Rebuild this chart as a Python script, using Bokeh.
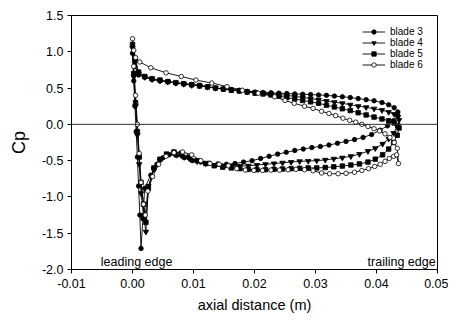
from bokeh.plotting import figure
from bokeh.models import (Span, Label, Legend, LegendItem, FixedTicker,
                          PrintfTickFormatter, Range1d)
from bokeh.embed import file_html
from bokeh.resources import INLINE

# ---------------- data ----------------
x_ticks = [-0.01, 0.0, 0.01, 0.02, 0.03, 0.04, 0.05]
y_ticks = [-2.0, -1.5, -1.0, -0.5, 0.0, 0.5, 1.0, 1.5]

# pressure side (leading edge -> trailing edge), blades 3-5
ps_x = [0.0000, 0.0004, 0.0010, 0.0020, 0.0032, 0.0045, 0.0058, 0.0071, 0.0084,
        0.0097, 0.0110, 0.0123, 0.0136, 0.0149, 0.0162, 0.0175, 0.0188, 0.0201,
        0.0214, 0.0227, 0.0240, 0.0253, 0.0266, 0.0279, 0.0292, 0.0305, 0.0318,
        0.0331, 0.0344, 0.0357, 0.0370, 0.0383, 0.0396, 0.0409, 0.0420, 0.0429,
        0.0435]
blade3_ps_cp = [0.98, 0.80, 0.68, 0.65, 0.62, 0.60, 0.59, 0.57, 0.56, 0.55, 0.54,
                0.52, 0.50, 0.49, 0.48, 0.47, 0.455, 0.445, 0.44, 0.435, 0.43,
                0.425, 0.42, 0.415, 0.41, 0.405, 0.40, 0.39, 0.38, 0.37, 0.355,
                0.34, 0.325, 0.30, 0.27, 0.23, 0.17]
blade4_ps_cp = [1.05, 0.85, 0.70, 0.65, 0.62, 0.60, 0.585, 0.57, 0.555, 0.54, 0.53,
                0.515, 0.50, 0.49, 0.475, 0.465, 0.45, 0.44, 0.43, 0.42, 0.41,
                0.40, 0.385, 0.37, 0.355, 0.34, 0.32, 0.305, 0.29, 0.27, 0.25,
                0.235, 0.215, 0.195, 0.17, 0.14, 0.10]
blade5_ps_cp = [1.10, 0.90, 0.72, 0.66, 0.63, 0.61, 0.59, 0.575, 0.56, 0.545, 0.53,
                0.515, 0.50, 0.485, 0.47, 0.46, 0.445, 0.43, 0.42, 0.405, 0.39,
                0.37, 0.35, 0.33, 0.31, 0.29, 0.265, 0.24, 0.215, 0.19, 0.16,
                0.13, 0.10, 0.075, 0.05, 0.02, -0.02]
# pressure side, blade 6
blade6_ps_x = [0.0000, 0.0002, 0.0005, 0.0012, 0.0030, 0.0055, 0.0080, 0.0104,
               0.0130, 0.0155, 0.0180, 0.0206, 0.0233, 0.0250, 0.0265, 0.0282,
               0.0296, 0.0310, 0.0322, 0.0333, 0.0345, 0.0356, 0.0366, 0.0376,
               0.0386, 0.0396, 0.0405, 0.0414, 0.0422, 0.0429, 0.0434]
blade6_ps_cp = [1.18, 1.02, 0.92, 0.86, 0.78, 0.71, 0.66, 0.61, 0.57, 0.52, 0.47,
                0.43, 0.38, 0.33, 0.29, 0.25, 0.22, 0.18, 0.15, 0.12, 0.085,
                0.055, 0.03, 0.00, -0.03, -0.06, -0.09, -0.13, -0.18, -0.25, -0.33]

# suction side (leading edge -> trailing edge)
blade3_ss_x = [0.0002, 0.0004, 0.0006, 0.0008, 0.0010, 0.0012, 0.0014, 0.0017,
               0.0020, 0.0030, 0.0040, 0.0050, 0.0060, 0.0072, 0.0085, 0.0098,
               0.0112, 0.0126, 0.0140, 0.0154, 0.0168, 0.0182, 0.0196, 0.0210,
               0.0224, 0.0238, 0.0252, 0.0266, 0.0280, 0.0294, 0.0308, 0.0322,
               0.0336, 0.0350, 0.0364, 0.0378, 0.0392, 0.0406, 0.0418, 0.0428,
               0.0435]
blade3_ss_cp = [0.60, 0.25, -0.10, -0.45, -0.85, -1.25, -1.71, -1.30, -0.88, -0.70,
                -0.55, -0.46, -0.42, -0.43, -0.46, -0.50, -0.52, -0.535, -0.545,
                -0.55, -0.54, -0.52, -0.50, -0.47, -0.44, -0.41, -0.385, -0.36,
                -0.34, -0.32, -0.305, -0.285, -0.26, -0.235, -0.21, -0.18, -0.14,
                -0.08, -0.02, 0.05, 0.12]
ss_x = [0.0002, 0.0005, 0.0008, 0.0011, 0.0014, 0.0018, 0.0022, 0.0026, 0.0035,
        0.0045, 0.0056, 0.0068, 0.0080, 0.0093, 0.0106, 0.0120, 0.0134, 0.0148,
        0.0162, 0.0176, 0.0190, 0.0204, 0.0218, 0.0232, 0.0246, 0.0260, 0.0274,
        0.0288, 0.0302, 0.0316, 0.0330, 0.0344, 0.0358, 0.0372, 0.0386, 0.0398,
        0.0410, 0.0420, 0.0428, 0.0434, 0.0437]
blade4_ss_cp = [0.65, 0.25, -0.15, -0.55, -0.95, -1.25, -1.48, -0.85, -0.62, -0.50,
                -0.42, -0.40, -0.43, -0.47, -0.51, -0.54, -0.56, -0.57, -0.575,
                -0.575, -0.57, -0.56, -0.55, -0.54, -0.53, -0.52, -0.51, -0.505,
                -0.50, -0.49, -0.475, -0.46, -0.44, -0.41, -0.37, -0.33, -0.27,
                -0.20, -0.12, -0.03, 0.06]
blade5_ss_cp = [0.70, 0.30, -0.10, -0.45, -0.80, -1.10, -1.35, -0.88, -0.60, -0.48,
                -0.41, -0.38, -0.40, -0.45, -0.50, -0.54, -0.57, -0.59, -0.60,
                -0.61, -0.62, -0.625, -0.625, -0.62, -0.615, -0.61, -0.605, -0.60,
                -0.60, -0.595, -0.585, -0.575, -0.56, -0.545, -0.52, -0.48, -0.42,
                -0.34, -0.25, -0.15, -0.05]
blade6_ss_x = [0.0002, 0.0005, 0.0008, 0.0011, 0.0014, 0.0018, 0.0021, 0.0025,
               0.0033, 0.0043, 0.0055, 0.0068, 0.0082, 0.0097, 0.0112, 0.0127,
               0.0142, 0.0157, 0.0171, 0.0185, 0.0199, 0.0213, 0.0227, 0.0241,
               0.0255, 0.0268, 0.0282, 0.0296, 0.0310, 0.0323, 0.0337, 0.0350,
               0.0364, 0.0376, 0.0387, 0.0397, 0.0406, 0.0414, 0.0421, 0.0428,
               0.0433, 0.0436]
blade6_ss_cp = [0.80, 0.40, 0.00, -0.40, -0.80, -1.10, -1.25, -0.92, -0.72, -0.55,
                -0.44, -0.39, -0.38, -0.42, -0.50, -0.54, -0.55, -0.57, -0.61,
                -0.63, -0.635, -0.635, -0.63, -0.63, -0.625, -0.62, -0.625, -0.64,
                -0.67, -0.68, -0.68, -0.675, -0.66, -0.635, -0.61, -0.58, -0.55,
                -0.51, -0.47, -0.44, -0.42, -0.54]

blade_names = ["blade 3", "blade 4", "blade 5", "blade 6"]
# --------------------------------------

FONT = "Liberation Sans"

p = figure(width=448, height=318, output_backend="svg", toolbar_location=None,
           x_range=Range1d(-0.01, 0.05), y_range=Range1d(-2.0, 1.5),
           min_border_left=71, min_border_right=11, min_border_top=15,
           min_border_bottom=49, background_fill_color="white",
           border_fill_color="white")

p.xgrid.visible = False
p.ygrid.visible = False
p.outline_line_color = "black"
p.outline_line_width = 1

p.xaxis.ticker = FixedTicker(ticks=x_ticks)
p.yaxis.ticker = FixedTicker(ticks=y_ticks)
p.xaxis.formatter = PrintfTickFormatter(format="%.2f")
p.yaxis.formatter = PrintfTickFormatter(format="%.1f")
for ax in (p.xaxis, p.yaxis):
    ax.axis_line_color = "black"
    ax.major_tick_line_color = "black"
    ax.minor_tick_line_color = None
    ax.major_tick_in = 0
    ax.major_tick_out = 4
    ax.major_label_text_font = FONT
    ax.major_label_text_font_size = "12.5px"
    ax.major_label_text_color = "black"
    ax.axis_label_text_font = FONT
    ax.axis_label_text_font_style = "normal"
    ax.axis_label_text_color = "black"
p.xaxis.axis_label = "axial distance (m)"
p.xaxis.axis_label_text_font_size = "14.5px"
p.xaxis.major_label_standoff = 5
p.xaxis.axis_label_standoff = 6
p.yaxis.axis_label = "Cp"
p.yaxis.axis_label_text_font_size = "18px"
p.yaxis.major_label_standoff = 4
p.yaxis.axis_label_standoff = 10

p.add_layout(Span(location=0, dimension="width", line_color="#333333",
                  line_width=1))

def loop(psx, pscp, ssx, sscp):
    xs = list(reversed(psx)) + list(ssx)
    ys = list(reversed(pscp)) + list(sscp)
    return xs, ys

series = [
    (ps_x, blade3_ps_cp, blade3_ss_x, blade3_ss_cp, "circle", "black", 4.5),
    (ps_x, blade4_ps_cp, ss_x, blade4_ss_cp, "inverted_triangle", "black", 5.5),
    (ps_x, blade5_ps_cp, ss_x, blade5_ss_cp, "square", "black", 4.5),
    (blade6_ps_x, blade6_ps_cp, blade6_ss_x, blade6_ss_cp, "circle", "white", 4.5),
]

items = []
for name, (psx, pscp, ssx, sscp, marker, fill, size) in zip(blade_names, series):
    xs, ys = loop(psx, pscp, ssx, sscp)
    lr = p.line(xs + [psx[-1]], ys + [pscp[-1]], line_color="black",
                line_width=0.9)
    sr = p.scatter(xs, ys, marker=marker, size=size, fill_color=fill,
                   line_color="black", line_width=0.8)
    items.append(LegendItem(label=name, renderers=[lr, sr]))

legend = Legend(items=items, location=(291, 199), background_fill_alpha=0,
                border_line_alpha=0, label_text_font=FONT,
                label_text_font_size="10px", label_text_color="black",
                glyph_width=23, glyph_height=11, label_height=11,
                label_standoff=5, spacing=0, padding=0, margin=0)
p.add_layout(legend)

p.add_layout(Label(x=-0.0052, y=-1.90, text="leading edge", text_font=FONT,
                   text_font_size="12.5px", text_baseline="middle",
                   text_color="black"))
p.add_layout(Label(x=0.0497, y=-1.90, text="trailing edge", text_font=FONT,
                   text_font_size="12.5px", text_baseline="middle",
                   text_align="right", text_color="black"))

open("out.html", "w").write(file_html(p, INLINE))
